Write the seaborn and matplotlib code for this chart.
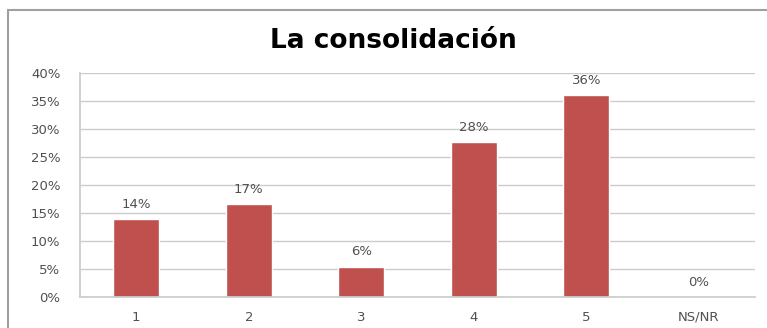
import matplotlib
matplotlib.use("Agg")
import matplotlib.pyplot as plt
import seaborn as sns
import pandas as pd
from matplotlib.patches import Rectangle

categories = ["1", "2", "3", "4", "5", "NS/NR"]
values = [13.9, 16.6, 5.4, 27.7, 36.1, 0.0]
labels = ["14%", "17%", "6%", "28%", "36%", "0%"]
yticks = [0, 5, 10, 15, 20, 25, 30, 35, 40]

sns.set_theme(style="white")
plt.rcParams["font.family"] = ["DejaVu Sans"]

W, H = 767, 328
fig = plt.figure(figsize=(W / 100, H / 100), dpi=100)
fig.patch.set_facecolor("white")

# outer frame
fig.add_artist(Rectangle((8 / W, -0.05), 1.0, 1 - 10 / H + 0.05,
                         transform=fig.transFigure, fill=False,
                         edgecolor="#a0a0a0", linewidth=1.5))

ax = fig.add_axes([80 / W, 1 - 297 / H, (755 - 80) / W, (297 - 73) / H])
df = pd.DataFrame({"cat": categories, "val": values})
sns.barplot(data=df, x="cat", y="val", color="#C0504D", saturation=1,
            width=0.41, ax=ax)

txt_col = "#505050"
ax.set_ylim(0, 40)
ax.set_yticks(yticks)
ax.set_yticklabels([f"{t}%" for t in yticks], fontsize=9.5, color=txt_col)
ax.set_xlim(-0.5, len(categories) - 0.5)
ax.tick_params(axis="x", labelsize=9.5, labelcolor=txt_col, length=0, pad=10)
ax.tick_params(axis="y", length=0, pad=14)
ax.set_xlabel("")
ax.set_ylabel("")
ax.grid(axis="y", color="#cccccc", linewidth=1)
ax.set_axisbelow(True)
for s in ["top", "right"]:
    ax.spines[s].set_visible(False)
ax.spines["left"].set_color("#cccccc")
ax.spines["bottom"].set_color("#cccccc")

for i, (v, lab) in enumerate(zip(values, labels)):
    ax.annotate(lab, (i, v), xytext=(0, 6), textcoords="offset points",
                ha="center", va="bottom", fontsize=9.5, color=txt_col)

fig.text(393 / W, 1 - 41 / H, "La consolidación", ha="center", va="center",
         fontsize=19, fontweight="bold", color="black")

fig.savefig("out.png", dpi=100, facecolor="white")
